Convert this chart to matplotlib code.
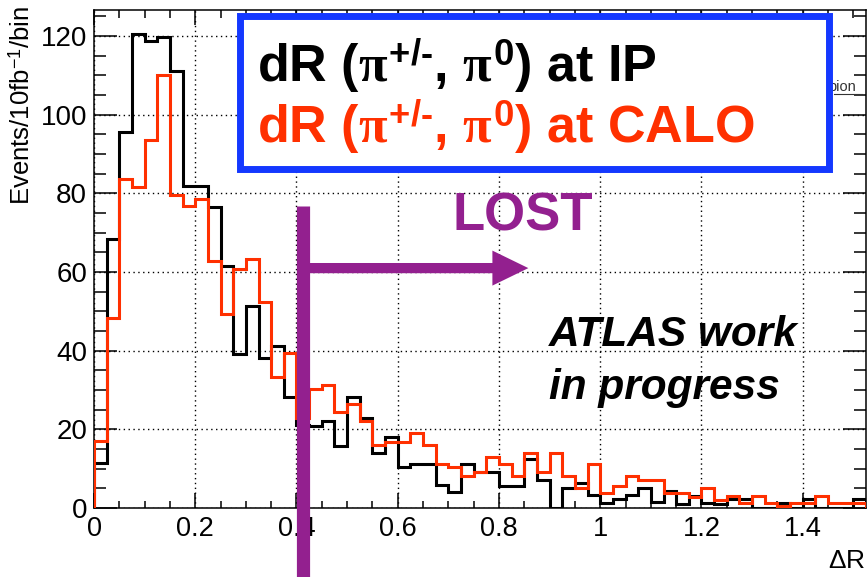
import numpy as np
import matplotlib
matplotlib.use("Agg")
import matplotlib.pyplot as plt
from matplotlib.patches import Rectangle
from matplotlib.ticker import MultipleLocator

plt.rcParams['font.family'] = ['Liberation Sans', 'DejaVu Sans']
plt.rcParams['mathtext.fontset'] = 'custom'
plt.rcParams['mathtext.rm'] = 'Liberation Sans:bold'
plt.rcParams['mathtext.bf'] = 'Liberation Sans:bold'
plt.rcParams['mathtext.it'] = 'Liberation Serif:bold'

# dR(pi+/-, pi0) histograms, 0.025 wide bins
bin_width = 0.025
n_bins = 61
dr_ip = [11.5, 68.4, 95.5, 120.6, 118.7, 119.8, 111.0, 81.8, 81.8, 76.6,
         61.6, 39.2, 51.4, 38.2, 41.3, 28.2, 21.0, 20.9, 22.1, 15.8,
         28.3, 23.0, 14.0, 18.0, 10.4, 11.2, 11.2, 5.9, 4.0, 11.2,
         9.2, 9.2, 5.6, 5.6, 12.4, 7.1, 0.0, 5.2, 6.3, 3.3,
         1.2, 2.2, 3.3, 5.0, 1.6, 4.2, 0.9, 3.0, 1.2, 1.0,
         2.2, 2.2, 0.0, 0.0, 1.3, 0.0, 2.2, 0.0, 0.0, 0.0,
         2.2]
dr_calo = [17.0, 48.3, 83.7, 81.7, 93.6, 110.0, 79.6, 76.7, 78.6, 62.7,
           49.4, 60.8, 63.4, 52.4, 33.4, 39.4, 23.0, 30.2, 31.3, 24.3,
           26.4, 22.1, 15.9, 16.9, 16.9, 19.0, 16.0, 11.2, 10.3, 8.1,
           9.2, 13.0, 11.2, 8.1, 13.9, 9.2, 13.9, 8.1, 5.2, 11.2,
           3.9, 5.7, 8.1, 7.1, 7.1, 3.9, 3.9, 2.9, 5.0, 2.0,
           3.1, 1.2, 3.1, 1.2, 0.5, 1.2, 1.2, 3.1, 1.2, 1.2,
           1.2]
x_ticks = [0, 0.2, 0.4, 0.6, 0.8, 1.0, 1.2, 1.4]
x_ticklabels = ['0', '0.2', '0.4', '0.6', '0.8', '1', '1.2', '1.4']
y_ticks = [0, 20, 40, 60, 80, 100, 120]
dr_cut = 0.4

edges = np.arange(n_bins + 1) * bin_width

red = '#ff3000'
purple = '#93208f'
blue = '#1438ff'

fig = plt.figure(figsize=(8.67, 5.77), dpi=100)
ax = fig.add_axes([94 / 867, 69 / 577, 772 / 867, 498 / 577])

ax.stairs(dr_ip, edges, color='black', lw=2.2, zorder=3)
ax.stairs(dr_calo, edges, color=red, lw=2.2, zorder=4)

ax.set_xlim(0, edges[-1])
ax.set_ylim(0, 1.05 * max(dr_ip))

ax.set_xticks(x_ticks)
ax.set_xticklabels(x_ticklabels, fontsize=19.5)
ax.xaxis.set_minor_locator(MultipleLocator(0.05))
ax.set_yticks(y_ticks)
ax.set_yticklabels([str(v) for v in y_ticks], fontsize=20)
ax.yaxis.set_minor_locator(MultipleLocator(5))
ax.tick_params(axis='both', which='both', direction='in', top=True, right=True,
               width=1.1, color='black')
ax.tick_params(axis='x', which='major', length=10.8, pad=6)
ax.tick_params(axis='x', which='minor', length=5.4)
ax.tick_params(axis='y', which='major', length=16.6, pad=5)
ax.tick_params(axis='y', which='minor', length=8.3)
ax.grid(True, which='major', color='black', linestyle=(0, (1, 2.5)), lw=1.0)
ax.set_axisbelow(True)
for sp in ax.spines.values():
    sp.set_linewidth(1.1)

fig.text(22 / 867, 1 - 6 / 577, r'Events/10fb$^{\mathregular{-1}}$/bin',
         rotation=90, ha='center', va='top', fontsize=18.5)
fig.text(865 / 867, 4 / 577, r'$\mathregular{\Delta R}$', ha='right', va='bottom',
         fontsize=19)

# cut line and arrow pointing to the lost region
bar_x = dr_cut + bin_width / 2
ax.plot([bar_x, bar_x], [76.7, -18], color=purple, lw=9.5,
        solid_capstyle='butt', clip_on=False, zorder=6)
ax.arrow(bar_x, 61, 0.858 - bar_x, 0, width=2.6, head_width=8.9,
         head_length=0.071, length_includes_head=True, color=purple, lw=0,
         zorder=6)
ax.text(0.709, 70.5, 'LOST', color=purple, fontsize=38, fontweight='bold',
        ha='left', va='baseline', zorder=6)

ax.text(0.898, 41.2, 'ATLAS work', fontsize=30.5, fontweight='bold',
        fontstyle='italic', ha='left', va='baseline', zorder=6)
ax.text(0.898, 27.6, 'in progress', fontsize=30.5, fontweight='bold',
        fontstyle='italic', ha='left', va='baseline', zorder=6)

# partly hidden entry of the original legend behind the box
ax.text((828 - 94) / 772, (508 - 91) / 498, 'pion', transform=ax.transAxes,
        fontsize=10.5, ha='left', va='baseline', color='#333333', zorder=5)
ax.plot([(834 - 94) / 772, (862 - 94) / 772], [(508 - 94) / 498] * 2,
        transform=ax.transAxes, color='#333333', lw=0.8, zorder=5)

# legend box
box = Rectangle((0.1885, 0.6817), 0.764, 0.307, transform=ax.transAxes,
                facecolor='white', edgecolor=blue, lw=5.0, zorder=7,
                clip_on=False)
ax.add_patch(box)
ax.text((257 - 94) / 772, 0.855,
        r'dR ($\pi^{\text{+/-}}$, $\pi^{\text{0}}$) at IP',
        transform=ax.transAxes, fontsize=37.5, fontweight='bold', color='black',
        ha='left', va='baseline', zorder=8)
ax.text((257 - 94) / 772, 0.731,
        r'dR ($\pi^{\text{+/-}}$, $\pi^{\text{0}}$) at CALO',
        transform=ax.transAxes, fontsize=37.5, fontweight='bold', color=red,
        ha='left', va='baseline', zorder=8)

fig.savefig('out.png', dpi=100)
